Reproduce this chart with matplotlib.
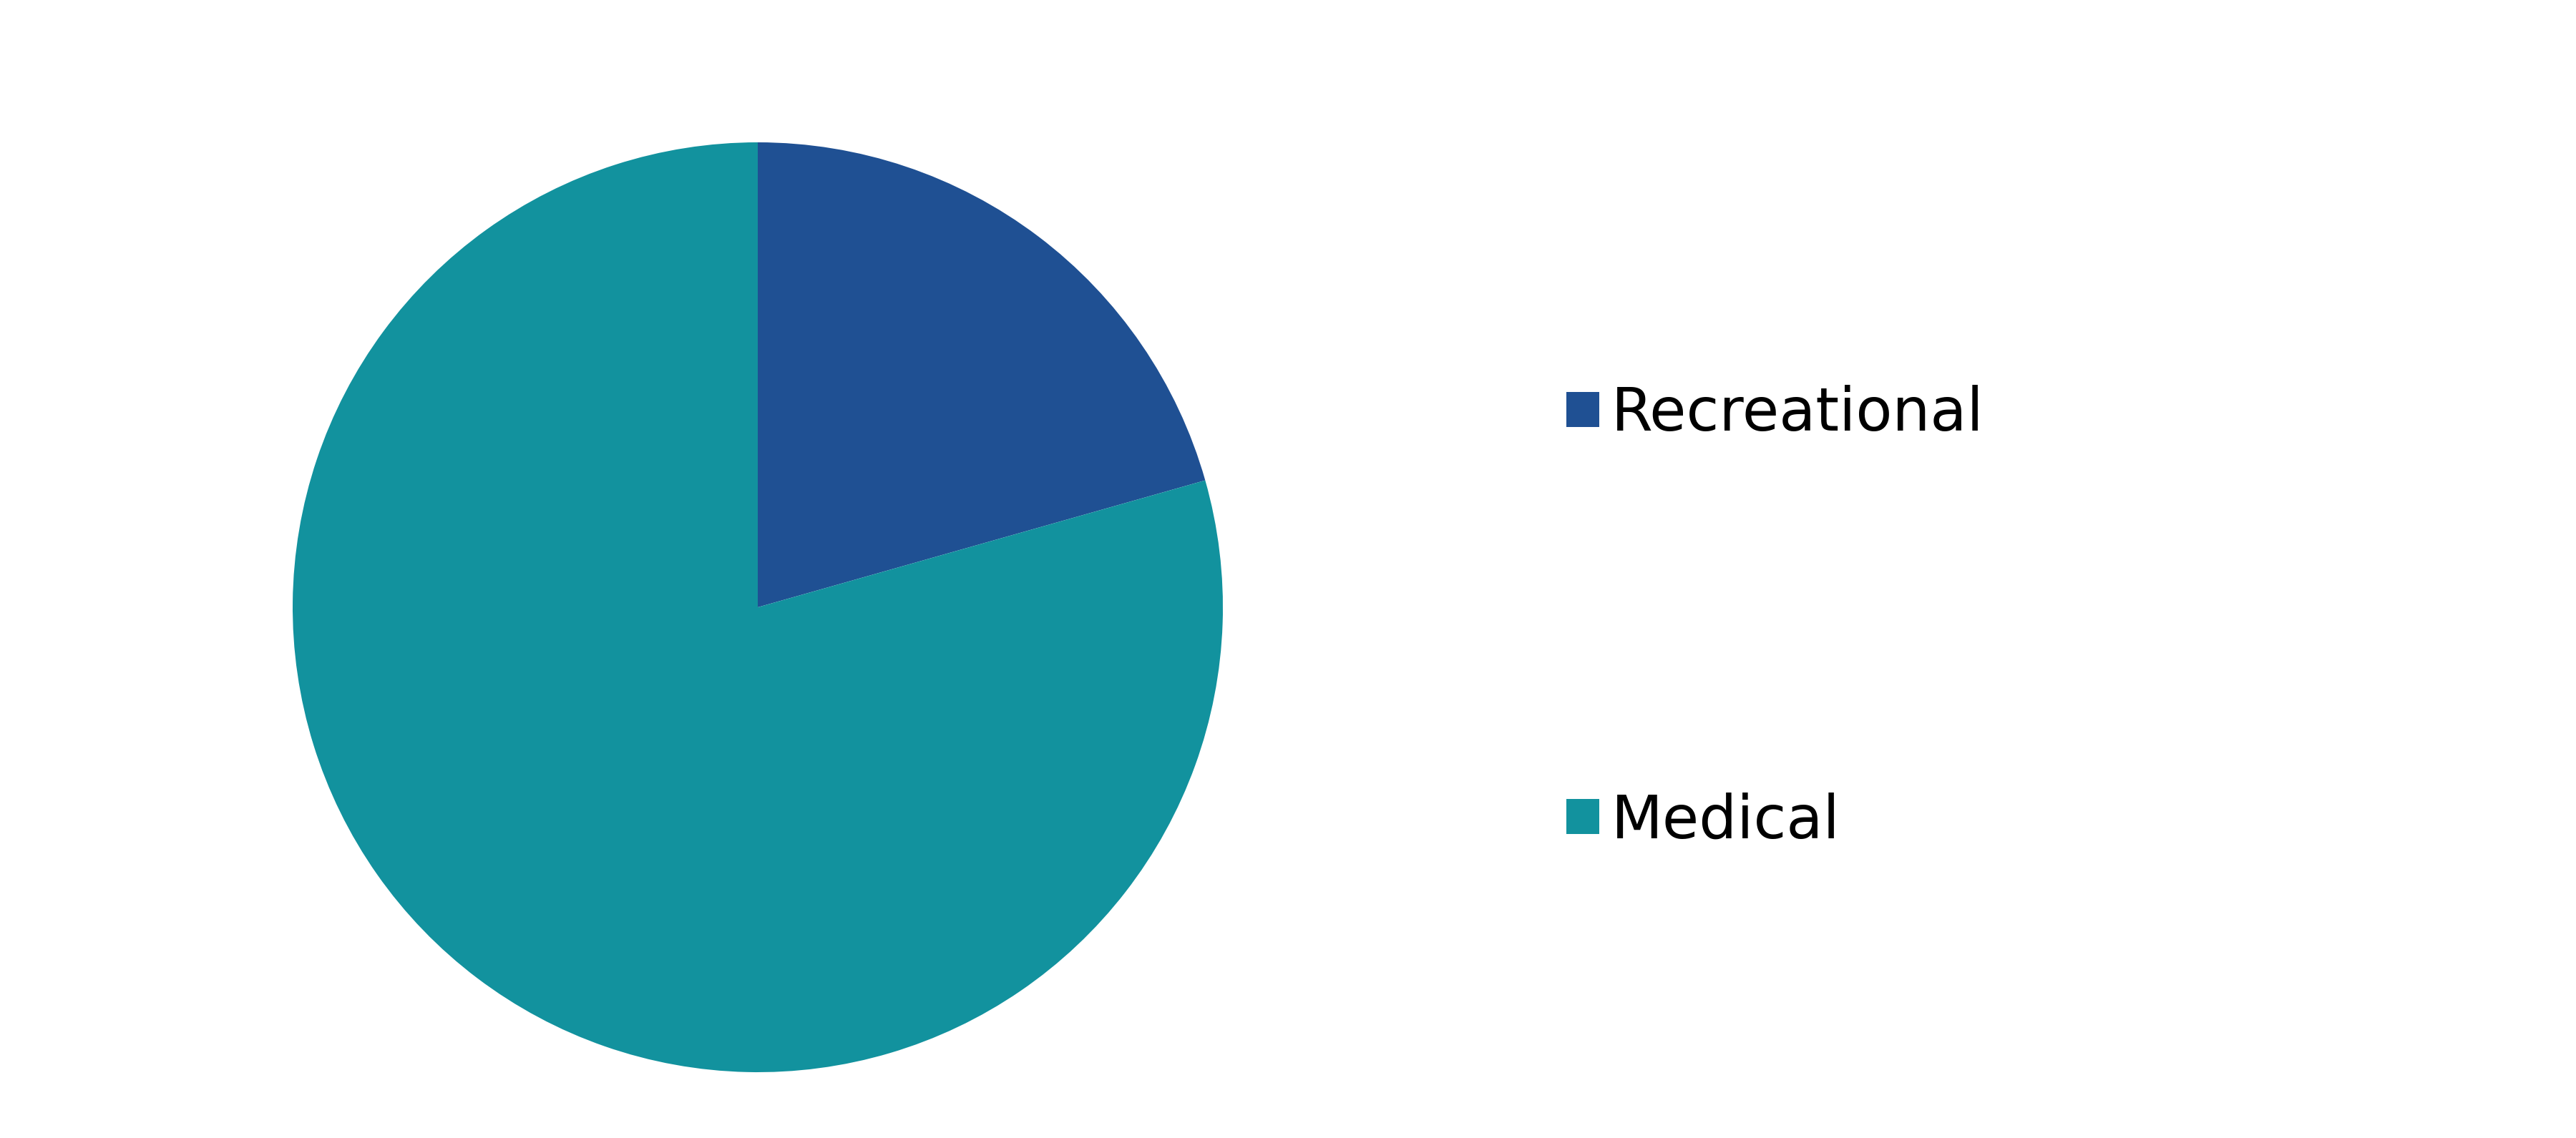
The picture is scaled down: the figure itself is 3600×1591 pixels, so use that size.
import matplotlib
matplotlib.use("Agg")
import matplotlib.pyplot as plt

categories = ["Recreational", "Medical"]
shares = [20.6, 79.4]
colors = ["#1F5093", "#12929E"]

W, H = 3600, 1591
fig = plt.figure(figsize=(W / 100, H / 100), dpi=100)
fig.patch.set_facecolor("white")

cx, cy, r = 1059, 849, 650
ax = fig.add_axes([(cx - r) / W, (H - cy - r) / H, 2 * r / W, 2 * r / H])
wedges, _ = ax.pie(shares, colors=colors, startangle=90, counterclock=False,
                   radius=1.0, wedgeprops=dict(linewidth=0))
ax.set_xlim(-1, 1)
ax.set_ylim(-1, 1)
ax.set_aspect("equal")
ax.axis("off")

fs = 60
leg = fig.legend(wedges, categories, loc="upper left",
                 bbox_to_anchor=(2189 / W, 1 - 538 / H),
                 frameon=False, borderpad=0, borderaxespad=0,
                 handlelength=0.55, handleheight=0.53, handletextpad=0.2,
                 labelspacing=5.86, prop={"family": "DejaVu Sans", "size": fs})

fig.savefig("out.png", dpi=100, facecolor="white")
